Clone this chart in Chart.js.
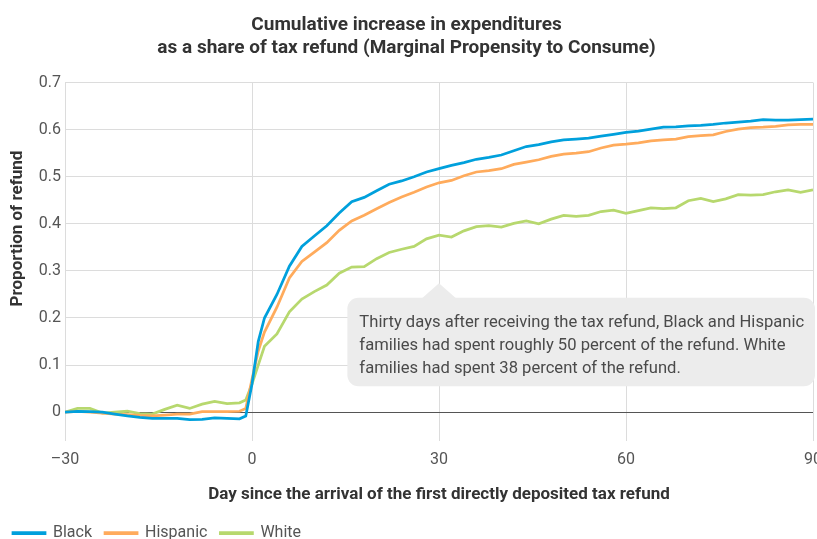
<!DOCTYPE html>
<html>
<head>
<meta charset="utf-8">
<script src="https://cdn.jsdelivr.net/npm/chart.js@4.4.0/dist/chart.umd.min.js"></script>
<style>
  html, body { margin: 0; padding: 0; background: #fff; }
  #wrap { width: 817px; height: 539px; }
</style>
</head>
<body>
<div id="wrap"><canvas id="canvas"></canvas></div>
<script>
// days since first directly deposited tax refund
var days = [-30, -28, -26, -24, -22, -20, -18, -16, -14, -12, -10, -8, -6, -4, -2, -1, 0, 1, 2,
	4, 6, 8, 10, 12, 14, 16, 18, 20, 22, 24, 26, 28, 30, 32, 34, 36, 38, 40, 42, 44, 46, 48, 50,
	52, 54, 56, 58, 60, 62, 64, 66, 68, 70, 72, 74, 76, 78, 80, 82, 84, 86, 88, 90];

var black = [0, 0.002, 0.001, 0, -0.004, -0.008, -0.011, -0.013, -0.013, -0.013, -0.016, -0.015, -0.012, -0.013, -0.014, -0.008, 0.06, 0.15, 0.2,
	0.25, 0.31, 0.352, 0.374, 0.396, 0.423, 0.447, 0.456, 0.47, 0.484, 0.491, 0.5, 0.51, 0.517, 0.524, 0.53, 0.537, 0.541, 0.546, 0.555, 0.564, 0.568, 0.574, 0.578,
	0.58, 0.582, 0.586, 0.59, 0.594, 0.597, 0.601, 0.605, 0.606, 0.608, 0.609, 0.611, 0.614, 0.616, 0.618, 0.621, 0.62, 0.62, 0.621, 0.622];

var hispanic = [0, 0.002, 0, -0.002, -0.004, -0.005, -0.007, -0.008, -0.006, -0.004, -0.004, 0.001, 0.001, 0.001, 0.002, 0.008, 0.07, 0.13, 0.17,
	0.223, 0.285, 0.32, 0.34, 0.36, 0.386, 0.406, 0.418, 0.432, 0.445, 0.457, 0.467, 0.478, 0.487, 0.492, 0.502, 0.51, 0.513, 0.517, 0.526, 0.531, 0.536, 0.543, 0.548,
	0.55, 0.553, 0.561, 0.567, 0.569, 0.572, 0.576, 0.578, 0.58, 0.585, 0.587, 0.589, 0.596, 0.601, 0.604, 0.605, 0.607, 0.61, 0.611, 0.611];

var white = [0, 0.008, 0.008, -0.002, 0, 0.002, -0.003, -0.004, 0.006, 0.015, 0.008, 0.017, 0.023, 0.018, 0.02, 0.026, 0.06, 0.1, 0.14,
	0.166, 0.213, 0.24, 0.256, 0.27, 0.295, 0.308, 0.309, 0.326, 0.339, 0.346, 0.352, 0.368, 0.376, 0.372, 0.385, 0.394, 0.396, 0.393, 0.401, 0.406, 0.4, 0.41, 0.418,
	0.416, 0.418, 0.426, 0.429, 0.422, 0.428, 0.434, 0.432, 0.434, 0.449, 0.454, 0.447, 0.453, 0.462, 0.461, 0.462, 0.468, 0.472, 0.467, 0.472];

var xTicks = [-30, 0, 30, 60, 90];
var yTicks = [0, 0.1, 0.2, 0.3, 0.4, 0.5, 0.6, 0.7];

var titleLines = ['Cumulative increase in expenditures', 'as a share of tax refund (Marginal Propensity to Consume)'];
var noteLines = [
	'Thirty days after receiving the tax refund, Black and Hispanic',
	'families had spent roughly 50 percent of the refund. White',
	'families had spent 38 percent of the refund.'
];

function toPoints(values) {
	return values.map(function (v, i) { return { x: days[i], y: v }; });
}

var FONT = 'Roboto, "Open Sans", sans-serif';
Chart.defaults.font.family = FONT;

function makeSet(label, values, col) {
	return {
		label: label,
		data: toPoints(values),
		borderColor: col,
		backgroundColor: col,
		borderWidth: 2.75,
		pointRadius: 0,
		tension: 0,
		fill: false
	};
}

// callout box and y axis title
var extras = {
	id: 'extras',
	beforeDatasetsDraw: function (chart) {
		var ctx = chart.ctx, xs = chart.scales.x, ys = chart.scales.y, area = chart.chartArea;
		var left = xs.getPixelForValue(15.3), right = area.right + 2;
		var top = ys.getPixelForValue(0.243), bottom = ys.getPixelForValue(0.055);
		var tipX = xs.getPixelForValue(30), tipY = ys.getPixelForValue(0.274);
		ctx.save();
		ctx.fillStyle = '#ececec';
		ctx.beginPath();
		ctx.roundRect(left, top, right - left, bottom - top, 11);
		ctx.fill();
		ctx.beginPath();
		ctx.moveTo(tipX - 17, top + 0.5);
		ctx.lineTo(tipX, tipY);
		ctx.lineTo(tipX + 17, top + 0.5);
		ctx.closePath();
		ctx.fill();
		ctx.fillStyle = '#4a4a4a';
		ctx.font = '16.6px ' + FONT;
		ctx.textBaseline = 'middle';
		ctx.textAlign = 'left';
		for (var i = 0; i < noteLines.length; i++) {
			ctx.fillText(noteLines[i], left + 12, top + 25 + i * 23);
		}
		ctx.restore();
	},
	afterDraw: function (chart) {
		var ctx = chart.ctx, ys = chart.scales.y;
		ctx.save();
		ctx.translate(18, ys.getPixelForValue(0.39));
		ctx.rotate(-Math.PI / 2);
		ctx.fillStyle = '#333';
		ctx.font = 'bold 17px ' + FONT;
		ctx.textAlign = 'center';
		ctx.textBaseline = 'middle';
		ctx.fillText('Proportion of refund', 0, 0);
		ctx.restore();
	}
};

var ctx = document.getElementById('canvas').getContext('2d');
window.myLine = new Chart(ctx, {
	type: 'line',
	data: {
		datasets: [
			makeSet('Black', black, '#00a0dc'),
			makeSet('Hispanic', hispanic, '#ffab5c'),
			makeSet('White', white, '#b7d86e')
		]
	},
	plugins: [extras],
	options: {
		responsive: true,
		maintainAspectRatio: false,
		animation: false,
		layout: { padding: { left: 0, right: 4, top: 0, bottom: -12 } },
		plugins: {
			title: {
				display: true,
				text: titleLines,
				color: '#333',
				font: { size: 19, weight: 'bold', lineHeight: 1.25 },
				padding: { top: 13, bottom: 22 }
			},
			legend: {
				position: 'bottom',
				align: 'start',
				labels: {
					color: '#555',
					font: { size: 16 },
					boxWidth: 32,
					boxHeight: 1,
					padding: 13
				}
			},
			tooltip: { enabled: false }
		},
		scales: {
			x: {
				type: 'linear',
				min: -30,
				max: 90,
				afterBuildTicks: function (scale) {
					scale.ticks = xTicks.map(function (v) { return { value: v }; });
				},
				afterFit: function (scale) {
					scale.paddingRight = 0;
				},
				border: { display: false },
				grid: { color: '#dcdcdc', lineWidth: 1, drawTicks: false },
				ticks: {
					color: '#555',
					font: { size: 16 },
					padding: 9,
					maxRotation: 0,
					callback: function (v) { return v < 0 ? '\u2013' + Math.abs(v) : String(v); }
				},
				title: {
					display: true,
					text: 'Day since the arrival of the first directly deposited tax refund',
					color: '#333',
					font: { size: 17, weight: 'bold' },
					padding: { top: 6, bottom: 7 }
				}
			},
			y: {
				min: -0.062,
				max: 0.7,
				afterBuildTicks: function (scale) {
					scale.ticks = yTicks.map(function (v) { return { value: v }; });
				},
				afterFit: function (scale) {
					scale.width = 65;
				},
				border: { display: false },
				grid: {
					color: function (c) { return c.tick && c.tick.value === 0 ? '#555' : '#dcdcdc'; },
					lineWidth: 1,
					drawTicks: false
				},
				ticks: {
					color: '#555',
					font: { size: 16 },
					padding: 4,
					callback: function (v) { return String(Math.round(v * 10) / 10); }
				}
			}
		}
	}
});
</script>
</body>
</html>
